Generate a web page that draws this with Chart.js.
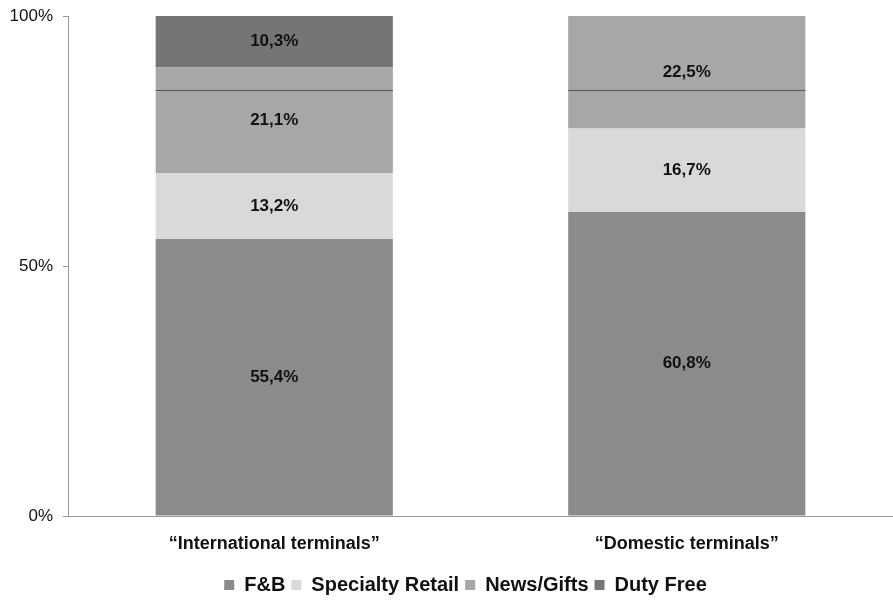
<!DOCTYPE html>
<html>
<head>
<meta charset="utf-8">
<script src="https://cdn.jsdelivr.net/npm/chart.js@4"></script>
<style>
  html, body { margin: 0; padding: 0; background: #fff; }
  #wrap { width: 893px; height: 601px; }
</style>
</head>
<body>
<div id="wrap"><canvas id="shareChart" width="893" height="601"></canvas></div>
<script>
// data (percent of sales)
const categories = ['\u201cInternational terminals\u201d', '\u201cDomestic terminals\u201d'];
const fnb = [55.4, 60.8];
const specialtyRetail = [13.2, 16.7];
const newsGifts = [21.1, 22.5];
const dutyFree = [10.3, 0];
const yTicks = [0, 50, 100];
const markerLine = 85.2; // thin dark line crossing both bars

const ctx = document.getElementById('shareChart').getContext('2d');

// percent labels in the middle of each segment
const segmentLabels = {
  id: 'segmentLabels',
  afterDatasetsDraw(chart) {
    const c = chart.ctx;
    c.save();
    c.font = 'bold 17px "Liberation Sans", Arial, sans-serif';
    c.fillStyle = '#111';
    c.textAlign = 'center';
    c.textBaseline = 'middle';
    chart.data.datasets.forEach((ds, i) => {
      chart.getDatasetMeta(i).data.forEach((bar, j) => {
        const v = ds.data[j];
        if (!v) return;
        const mid = (bar.y + bar.base) / 2;
        c.fillText(v.toFixed(1).replace('.', ',') + '%', bar.x, mid);
      });
    });
    c.restore();
  }
};

// the thin line across the bars
const barLine = {
  id: 'barLine',
  afterDatasetsDraw(chart) {
    const c = chart.ctx;
    const y = chart.scales.y.getPixelForValue(markerLine);
    c.save();
    c.strokeStyle = '#555';
    c.lineWidth = 1;
    chart.getDatasetMeta(0).data.forEach(bar => {
      c.beginPath();
      c.moveTo(bar.x - bar.width / 2, Math.round(y) + 0.5);
      c.lineTo(bar.x + bar.width / 2, Math.round(y) + 0.5);
      c.stroke();
    });
    c.restore();
  }
};

// nudge the legend a bit to the right and down, like the original
const legendShift = {
  id: 'legendShift',
  afterLayout(chart) {
    chart.legend.left += 19;
    chart.legend.right += 19;
    chart.legend.top += 4;
    chart.legend.bottom += 4;
  }
};

new Chart(ctx, {
  type: 'bar',
  data: {
    labels: categories,
    datasets: [
      { label: 'F&B', data: fnb, backgroundColor: '#8b8b8b' },
      { label: 'Specialty Retail', data: specialtyRetail, backgroundColor: '#d9d9d9' },
      { label: 'News/Gifts', data: newsGifts, backgroundColor: '#a7a7a7' },
      { label: 'Duty Free', data: dutyFree, backgroundColor: '#757575' }
    ]
  },
  options: {
    responsive: false,
    animation: false,
    layout: { padding: 0 },
    datasets: {
      bar: { barPercentage: 0.575, categoryPercentage: 1, borderWidth: 0 }
    },
    scales: {
      x: {
        stacked: true,
        afterFit(axis) { axis.height = 49; },
        grid: { display: false, drawTicks: false },
        border: { color: '#9a9a9a' },
        ticks: {
          color: '#111',
          padding: 17,
          font: { family: '"Liberation Sans", Arial, sans-serif', size: 18, weight: 'bold' }
        }
      },
      y: {
        stacked: true,
        min: 0,
        max: 100,
        afterBuildTicks(axis) { axis.ticks = yTicks.map(v => ({ value: v })); },
        afterFit(axis) { axis.width = 68; axis.paddingTop = 16; },
        grid: { drawOnChartArea: false, tickLength: 5, color: '#9a9a9a' },
        border: { color: '#9a9a9a' },
        ticks: {
          color: '#111',
          padding: 10,
          font: { family: '"Liberation Sans", Arial, sans-serif', size: 17 },
          callback: v => v + '%'
        }
      }
    },
    plugins: {
      legend: {
        position: 'bottom',
        labels: {
          boxWidth: 10,
          boxHeight: 10,
          padding: 6,
          color: '#111',
          font: { family: '"Liberation Sans", Arial, sans-serif', size: 20, weight: 'bold' }
        }
      },
      tooltip: { enabled: false }
    }
  },
  plugins: [segmentLabels, barLine, legendShift]
});
</script>
</body>
</html>
